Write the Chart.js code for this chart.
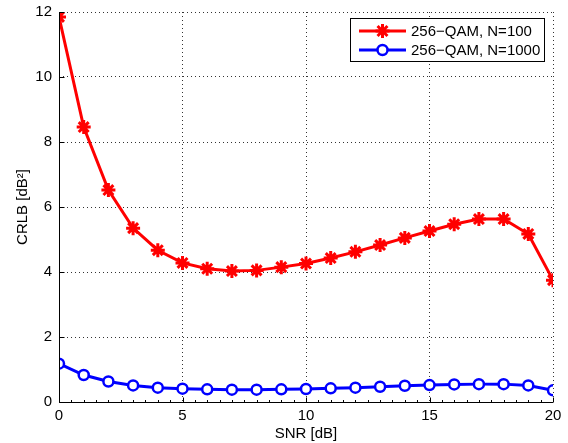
<!DOCTYPE html>
<html>
<head>
<meta charset="utf-8">
<script src="https://cdn.jsdelivr.net/npm/chart.js@4"></script>
<style>
  html, body { margin: 0; padding: 0; background: #fff; }
  #wrap { width: 568px; height: 443px; }
</style>
</head>
<body>
<div id="wrap"><canvas id="chart"></canvas></div>
<script>
"use strict";

// SNR in dB
const snrDb = [0, 1, 2, 3, 4, 5, 6, 7, 8, 9, 10, 11, 12, 13, 14, 15, 16, 17, 18, 19, 20];
// CRLB values
const crlbN100 = [11.85, 8.46, 6.52, 5.35, 4.67, 4.28, 4.10, 4.03, 4.05, 4.15, 4.26,
                  4.43, 4.62, 4.83, 5.05, 5.26, 5.47, 5.63, 5.63, 5.17, 3.75];
const crlbN1000 = [1.18, 0.83, 0.63, 0.51, 0.44, 0.41, 0.39, 0.38, 0.38, 0.39, 0.40,
                   0.42, 0.44, 0.47, 0.50, 0.52, 0.54, 0.55, 0.55, 0.51, 0.36];
const seriesLabels = ['256\u2212QAM, N=100', '256\u2212QAM, N=1000'];
const xTicks = [0, 5, 10, 15, 20];
const yTicks = [0, 2, 4, 6, 8, 10, 12];

const FONT = '"Liberation Sans", Arial, Helvetica, sans-serif';
const RED = '#ff0000';
const BLUE = '#0000ff';

const toPoints = ys => ys.map((y, i) => ({x: snrDb[i], y: y}));

// MATLAB style: solid left/bottom axes, ticks pointing inward, minor ticks on x
const matlabAxes = {
    id: 'matlabAxes',
    afterDatasetsDraw(chart) {
        const ctx = chart.ctx;
        const xs = chart.scales.x;
        const ys = chart.scales.y;
        const a = chart.chartArea;
        const left = Math.round(a.left) + 0.5;
        const bottom = Math.round(a.bottom) + 0.5;
        ctx.save();
        ctx.strokeStyle = '#000';
        ctx.lineWidth = 1;
        ctx.beginPath();
        ctx.moveTo(left, a.top);
        ctx.lineTo(left, bottom);
        ctx.lineTo(a.right, bottom);
        for (let v = 0; v <= 20; v += 0.5) {
            const px = Math.round(xs.getPixelForValue(v)) + 0.5;
            const len = xTicks.includes(v) ? 5 : 2.5;
            ctx.moveTo(px, bottom);
            ctx.lineTo(px, bottom - len);
        }
        yTicks.forEach(v => {
            const py = Math.round(ys.getPixelForValue(v)) + 0.5;
            ctx.moveTo(left, py);
            ctx.lineTo(left + 5, py);
        });
        ctx.stroke();
        ctx.restore();
    }
};

// legend box drawn inside the plot, top right
const boxLegend = {
    id: 'boxLegend',
    afterDraw(chart) {
        const ctx = chart.ctx;
        const area = chart.chartArea;
        const w = 194, h = 43;
        const x0 = Math.round(area.right - 9 - w);
        const y0 = Math.round(area.top + 6);
        ctx.save();
        ctx.fillStyle = '#fff';
        ctx.fillRect(x0, y0, w, h);
        ctx.strokeStyle = '#000';
        ctx.lineWidth = 1;
        ctx.strokeRect(x0 + 0.5, y0 + 0.5, w, h);
        ctx.font = '15px ' + FONT;
        ctx.textBaseline = 'middle';
        chart.data.datasets.forEach((ds, i) => {
            const cy = y0 + 13 + i * 19;
            ctx.strokeStyle = ds.borderColor;
            ctx.lineWidth = 3;
            ctx.beginPath();
            ctx.moveTo(x0 + 9, cy);
            ctx.lineTo(x0 + 56, cy);
            ctx.stroke();
            ctx.strokeStyle = ds.pointBorderColor;
            ctx.fillStyle = ds.pointBackgroundColor;
            ctx.lineWidth = ds.pointBorderWidth;
            Chart.helpers.drawPoint(ctx, {
                pointStyle: ds.pointStyle,
                radius: ds.pointRadius,
                borderWidth: ds.pointBorderWidth
            }, x0 + 32.5, cy);
            ctx.fillStyle = '#000';
            ctx.fillText(ds.label, x0 + 61, cy + 1);
        });
        ctx.restore();
    }
};

const gridStyle = {
    color: '#333',
    lineWidth: 1,
    drawTicks: false
};
// in v4 the border dash is what dashes the grid lines
const borderStyle = {display: false, dash: [1, 3]};

new Chart(document.getElementById('chart'), {
    type: 'line',
    data: {
        datasets: [
            {
                label: seriesLabels[0],
                data: toPoints(crlbN100),
                borderColor: RED,
                borderWidth: 3,
                pointStyle: 'star',
                pointRadius: 7,
                pointBorderWidth: 3,
                pointBorderColor: RED,
                pointBackgroundColor: RED,
                tension: 0
            },
            {
                label: seriesLabels[1],
                data: toPoints(crlbN1000),
                borderColor: BLUE,
                borderWidth: 3,
                pointStyle: 'circle',
                pointRadius: 5,
                pointBorderWidth: 2.5,
                pointBorderColor: BLUE,
                pointBackgroundColor: '#fff',
                tension: 0
            }
        ]
    },
    options: {
        responsive: true,
        maintainAspectRatio: false,
        animation: false,
        devicePixelRatio: 1,
        layout: {padding: {top: 12, right: 15, left: 0, bottom: 0}},
        plugins: {
            legend: {display: false},
            tooltip: {enabled: false}
        },
        scales: {
            x: {
                type: 'linear',
                min: 0,
                max: 20,
                afterBuildTicks: scale => { scale.ticks = xTicks.map(v => ({value: v})); },
                afterFit: scale => {
                    scale.height = 41;
                    scale.paddingLeft = 0;
                    scale.paddingRight = 0;
                },
                grid: gridStyle,
                border: borderStyle,
                ticks: {color: '#000', padding: 5, font: {family: FONT, size: 15}, maxRotation: 0},
                title: {display: true, text: 'SNR [dB]', color: '#000', padding: {top: 0, bottom: 0},
                        font: {family: FONT, size: 15}}
            },
            y: {
                min: 0,
                max: 12,
                afterBuildTicks: scale => { scale.ticks = yTicks.map(v => ({value: v})); },
                afterFit: scale => {
                    scale.width = 59;
                    scale.paddingTop = 0;
                    scale.paddingBottom = 0;
                },
                grid: gridStyle,
                border: borderStyle,
                ticks: {color: '#000', padding: 7, font: {family: FONT, size: 15}},
                title: {display: true, text: 'CRLB [dB\u00b2]', color: '#000', padding: {top: 14, bottom: 0},
                        font: {family: FONT, size: 15}}
            }
        }
    },
    plugins: [matlabAxes, boxLegend]
});
</script>
</body>
</html>
